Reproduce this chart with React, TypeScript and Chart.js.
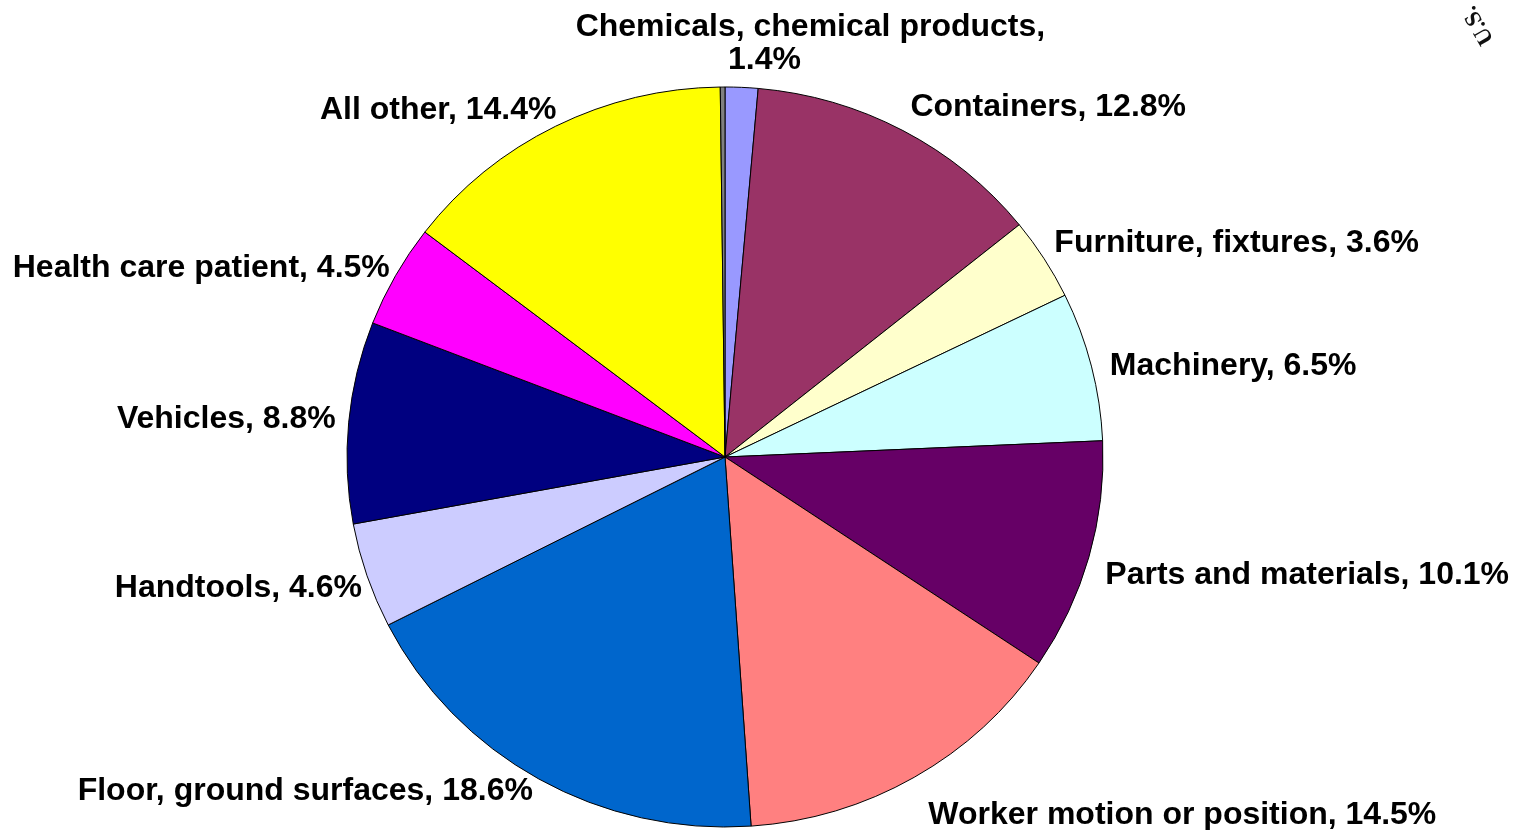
import React, { useEffect, useRef } from "react";
import { Chart, registerables } from "chart.js";

Chart.register(...registerables);

const categories = [
  "Chemicals, chemical products",
  "Containers",
  "Furniture, fixtures",
  "Machinery",
  "Parts and materials",
  "Worker motion or position",
  "Floor, ground surfaces",
  "Handtools",
  "Vehicles",
  "Health care patient",
  "All other",
  "",
];

const values = [1.4, 12.8, 3.6, 6.5, 10.1, 14.5, 18.6, 4.6, 8.8, 4.5, 14.4, 0.2];

const colors = [
  "#9999FF",
  "#993366",
  "#FFFFCC",
  "#CCFFFF",
  "#660066",
  "#FF8080",
  "#0066CC",
  "#CCCCFF",
  "#000080",
  "#FF00FF",
  "#FFFF00",
  "#808080",
];

// label wrapping: index of labels shown on two lines
const wrappedLabels = [0];

// fine nudges of each label line from its automatic anchor [dx, dy]
const labelNudges: number[][][] = [
  [[68, -44], [22, -11]],
  [[-1, -9]],
  [[-5, -8]],
  [[1, 2]],
  [[-1, 11]],
  [[5, 20]],
  [[3, -5]],
  [[12, 5]],
  [[5, -3]],
  [[10, -1]],
  [[9, -2]],
  [],
];

const RX = 378;
const RY = 370;
const LABEL_GAP = 18;
const TEXT_DY = 2;

function labelLinesFor(i: number): string[] {
  const cat = categories[i];
  if (!cat) return [];
  const pct = values[i].toFixed(1) + "%";
  if (wrappedLabels.includes(i)) return [cat + ",", pct];
  return [cat + ", " + pct];
}

const ellipsePlugin = {
  id: "ellipse",
  beforeDatasetsDraw(chart: any) {
    const arc = chart.getDatasetMeta(0).data[0] as any;
    const ctx = chart.ctx;
    ctx.save();
    ctx.translate(arc.x, arc.y);
    ctx.scale(1, RY / RX);
    ctx.translate(-arc.x, -arc.y);
  },
  afterDatasetsDraw(chart: any) {
    chart.ctx.restore();
  },
};

const labelPlugin = {
  id: "pieLabels",
  afterDraw(chart: any) {
    const ctx = chart.ctx as CanvasRenderingContext2D;
    const meta = chart.getDatasetMeta(0);
    ctx.save();
    ctx.fillStyle = "#000";
    ctx.font = "bold 32px 'Liberation Sans', Arial, sans-serif";
    ctx.textBaseline = "middle";
    meta.data.forEach((el: any, i: number) => {
      const lines = labelLinesFor(i);
      if (!lines.length) return;
      const mid = (el.startAngle + el.endAngle) / 2;
      const c = Math.cos(mid);
      const s = Math.sin(mid);
      const px = el.x + (el.outerRadius + LABEL_GAP) * c;
      const py = el.y + (el.outerRadius * (RY / RX) + LABEL_GAP) * s;
      ctx.textAlign = c > 0.1 ? "left" : c < -0.1 ? "right" : "center";
      lines.forEach((line, li) => {
        const n = (labelNudges[i] && labelNudges[i][li]) || [0, 0];
        ctx.fillText(line, px + n[0], py + n[1] + TEXT_DY);
      });
    });
    ctx.restore();

    // rotated watermark fragment in the corner
    ctx.save();
    ctx.translate(1494, 40);
    ctx.rotate((-120 * Math.PI) / 180);
    ctx.font = "bold 23px 'Liberation Serif', 'DejaVu Serif', serif";
    ctx.fillStyle = "#111";
    ctx.textAlign = "left";
    ctx.textBaseline = "alphabetic";
    ctx.fillText("U.S.", 0, 0);
    ctx.restore();
  },
};

export default function App() {
  const ref = useRef<HTMLCanvasElement | null>(null);

  useEffect(() => {
    document.body.style.margin = "0";
    const canvas = ref.current;
    if (!canvas) return;
    const chart = new Chart(canvas, {
      type: "pie",
      data: {
        labels: categories,
        datasets: [
          {
            data: values,
            backgroundColor: colors,
            borderColor: "#000000",
            borderWidth: 1,
            radius: RX,
          } as any,
        ],
      },
      options: {
        responsive: false,
        animation: false,
        rotation: 0,
        layout: { padding: { left: 347, right: 412, top: 100, bottom: 16 } },
        plugins: {
          legend: { display: false },
          tooltip: { enabled: false },
        },
      },
      plugins: [ellipsePlugin, labelPlugin],
    });
    return () => chart.destroy();
  }, []);

  return (
    <div style={{ width: 1515, height: 830, background: "#fff" }}>
      <canvas ref={ref} width={1515} height={830} style={{ display: "block" }} />
    </div>
  );
}
